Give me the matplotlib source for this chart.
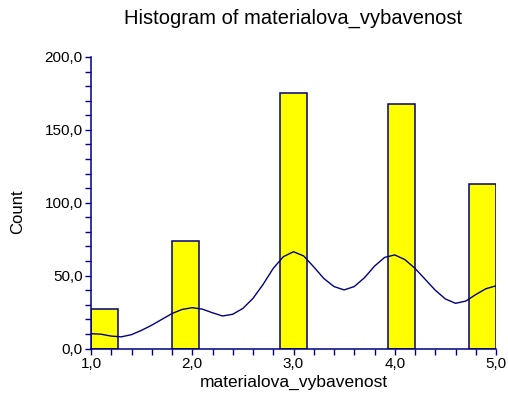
import matplotlib
matplotlib.use("Agg")
import matplotlib.pyplot as plt
import numpy as np
from matplotlib.ticker import MultipleLocator, FuncFormatter

# Histogram data (15 bins between 1.0 and 5.0)
bin_range = (1.0, 5.0)
bin_counts = [27, 0, 0, 74, 0, 0, 0, 175, 0, 0, 0, 168, 0, 0, 113]

# Density curve
curve_x = [1.0, 1.1, 1.2, 1.3, 1.4, 1.5, 1.6, 1.7, 1.8, 1.9, 2.0, 2.1, 2.2, 2.3,
           2.4, 2.5, 2.6, 2.7, 2.8, 2.9, 3.0, 3.1, 3.2, 3.3, 3.4, 3.5, 3.6, 3.7,
           3.8, 3.9, 4.0, 4.1, 4.2, 4.3, 4.4, 4.5, 4.6, 4.7, 4.8, 4.9, 5.0]
curve_y = [10.2, 9.8, 8.5, 8.0, 9.5, 12.5, 16.0, 20.0, 24.0, 26.8, 28.0, 27.0,
           24.5, 22.3, 23.5, 27.5, 34.4, 44.0, 55.0, 63.0, 66.4, 63.5, 56.0, 48.0,
           42.5, 40.2, 42.5, 48.5, 56.5, 62.5, 64.2, 61.0, 55.0, 47.5, 40.0, 34.0,
           31.0, 32.5, 37.0, 41.0, 43.0]

title = "Histogram of materialova_vybavenost"
xlabel = "materialova_vybavenost"
ylabel = "Count"

navy = "#000080"
plt.rcParams['font.family'] = ['Liberation Sans', 'DejaVu Sans']

fig = plt.figure(figsize=(5.08, 3.93), dpi=100)
ax = fig.add_axes([91/508, 1 - 348.5/393, (496 - 91)/508, (348.5 - 57)/393])

edges = np.linspace(bin_range[0], bin_range[1], len(bin_counts) + 1)
for i, c in enumerate(bin_counts):
    if c > 0:
        ax.bar(edges[i], c, width=edges[i + 1] - edges[i], align='edge',
               color='#FFFF00', edgecolor=navy, linewidth=1.1, zorder=2)

ax.plot(curve_x, curve_y, color=navy, linewidth=1.0, zorder=3)

ax.set_xlim(*bin_range)
ax.set_ylim(0, 200)
for s in ['top', 'right']:
    ax.spines[s].set_visible(False)
for s in ['left', 'bottom']:
    ax.spines[s].set_color(navy)
    ax.spines[s].set_linewidth(1.1)
    ax.spines[s].set_zorder(4)

ax.xaxis.set_major_locator(MultipleLocator(1.0))
ax.xaxis.set_minor_locator(MultipleLocator(0.2))
ax.yaxis.set_major_locator(MultipleLocator(50))
ax.yaxis.set_minor_locator(MultipleLocator(10))
fmt = FuncFormatter(lambda v, p: f"{v:.1f}".replace('.', ','))
ax.xaxis.set_major_formatter(fmt)
ax.yaxis.set_major_formatter(fmt)
ax.tick_params(which='both', direction='out', color=navy, width=1.0, length=4,
               labelsize=11, labelcolor='black', pad=2)

fig.text((91 + 496) / 2 / 508, 1 - 18 / 393, title, fontsize=14.5,
         ha='center', va='center')
ax.set_xlabel(xlabel, fontsize=12.5, labelpad=3)
ax.set_ylabel(ylabel, fontsize=12, va='center')
ax.yaxis.set_label_coords((18 - 91) / 405, (348.5 - 212) / 291.5)

fig.savefig("out.png", dpi=100)
